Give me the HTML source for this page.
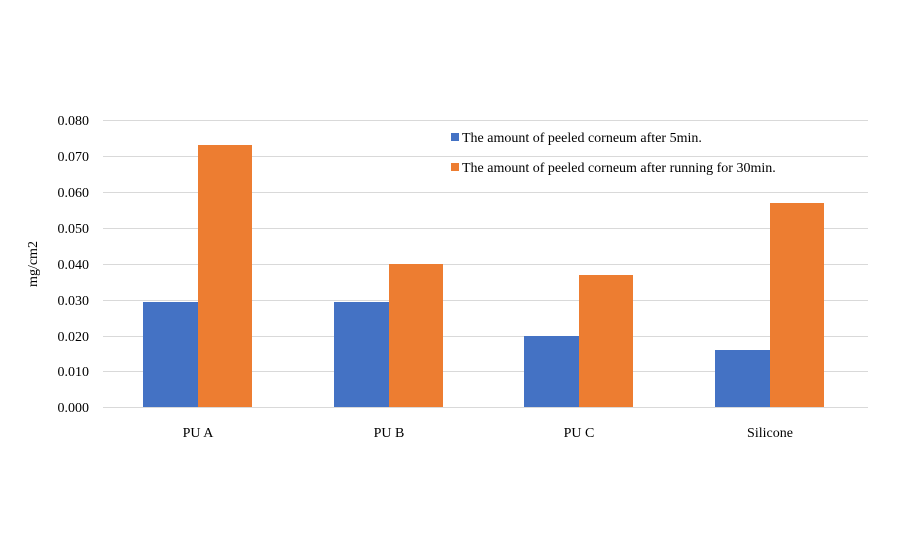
<!DOCTYPE html>
<html><head><style>body{margin:0;background:#fff}</style></head><body>
<svg width="900" height="550" xmlns="http://www.w3.org/2000/svg" font-family="Liberation Serif, serif" font-size="14" fill="#000">
<rect width="900" height="550" fill="#fff"/>
<g stroke="#d9d9d9" stroke-width="1">
<line x1="103" x2="868" y1="120.5" y2="120.5"/><line x1="103" x2="868" y1="156.5" y2="156.5"/>
<line x1="103" x2="868" y1="192.5" y2="192.5"/><line x1="103" x2="868" y1="228.5" y2="228.5"/>
<line x1="103" x2="868" y1="264.5" y2="264.5"/><line x1="103" x2="868" y1="300.5" y2="300.5"/>
<line x1="103" x2="868" y1="336.5" y2="336.5"/><line x1="103" x2="868" y1="371.5" y2="371.5"/>
<line x1="103" x2="868" y1="407.5" y2="407.5"/>
</g>
<g text-anchor="end">
<text x="89" y="125">0.080</text><text x="89" y="161">0.070</text><text x="89" y="197">0.060</text>
<text x="89" y="233">0.050</text><text x="89" y="269">0.040</text><text x="89" y="305">0.030</text>
<text x="89" y="341">0.020</text><text x="89" y="376">0.010</text><text x="89" y="412">0.000</text>
</g>
<text transform="translate(37,264) rotate(-90)" text-anchor="middle">mg/cm2</text>
<g fill="#4472c4">
<rect x="143" y="302" width="55" height="105"/><rect x="334" y="302" width="55" height="105"/>
<rect x="524" y="336" width="55" height="71"/><rect x="715" y="350" width="55" height="57"/>
</g>
<g fill="#ed7d31">
<rect x="198" y="145" width="54" height="262"/><rect x="389" y="264" width="54" height="143"/>
<rect x="579" y="275" width="54" height="132"/><rect x="770" y="203" width="54" height="204"/>
</g>
<g text-anchor="middle">
<text x="198" y="437">PU A</text><text x="389" y="437">PU B</text>
<text x="579" y="437">PU C</text><text x="770" y="437">Silicone</text>
</g>
<rect x="451" y="133" width="8" height="8" fill="#4472c4"/>
<text x="462" y="142" font-size="14">The amount of peeled corneum after 5min.</text>
<rect x="451" y="163" width="8" height="8" fill="#ed7d31"/>
<text x="462" y="172" font-size="14">The amount of peeled corneum after running for 30min.</text>
</svg>
</body></html>
